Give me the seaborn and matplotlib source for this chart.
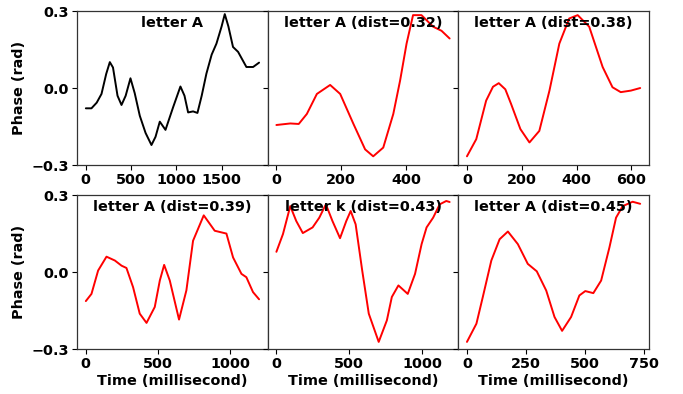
import numpy as np
import pandas as pd
import matplotlib
matplotlib.use("Agg")
import matplotlib.pyplot as plt
import seaborn as sns

# values (time in ms, phase in rad)
ref_t = [0, 62, 120, 173, 225, 265, 300, 350, 394, 440, 493, 540, 596, 660, 725, 770, 817,
         880, 964, 1045, 1090, 1130, 1185, 1233, 1280, 1332, 1390, 1443, 1500, 1535, 1575,
         1626, 1682, 1774, 1848, 1914]
ref_y = [-0.079, -0.079, -0.057, -0.023, 0.055, 0.101, 0.080, -0.030, -0.066, -0.030,
         0.038, -0.020, -0.108, -0.175, -0.222, -0.190, -0.131, -0.163, -0.075, 0.006,
         -0.030, -0.095, -0.091, -0.097, -0.030, 0.056, 0.130, 0.173, 0.240, 0.288, 0.240,
         0.160, 0.141, 0.082, 0.082, 0.099]

m1_t = [0, 43, 69, 94, 125, 166, 197, 238, 274, 299, 330, 361, 382, 402, 422, 448, 484, 510, 535]
m1_y = [-0.144, -0.138, -0.140, -0.101, -0.023, 0.012, -0.023, -0.140, -0.239, -0.266,
        -0.232, -0.101, 0.029, 0.173, 0.284, 0.284, 0.239, 0.223, 0.193]

m2_t = [0, 34, 70, 95, 116, 140, 161, 195, 228, 264, 301, 337, 373, 404, 446, 495, 531,
        561, 598, 632]
m2_y = [-0.266, -0.199, -0.049, 0.005, 0.019, -0.005, -0.062, -0.160, -0.212, -0.167,
        -0.010, 0.173, 0.271, 0.284, 0.239, 0.082, 0.003, -0.016, -0.010, 0.0]

m3_t = [0, 39, 85, 143, 201, 247, 281, 327, 373, 420, 477, 512, 542, 581, 645, 696, 742,
        816, 892, 973, 1019, 1077, 1111, 1157, 1199]
m3_y = [-0.113, -0.085, 0.006, 0.060, 0.045, 0.025, 0.016, -0.059, -0.162, -0.198, -0.136,
        -0.033, 0.028, -0.033, -0.185, -0.071, 0.122, 0.221, 0.161, 0.150, 0.057, -0.007,
        -0.020, -0.078, -0.106]

m4_t = [0, 45, 95, 136, 181, 248, 294, 339, 384, 436, 479, 509, 543, 588, 633, 701, 757,
        791, 836, 900, 950, 995, 1029, 1074, 1119, 1164, 1187]
m4_y = [0.079, 0.148, 0.257, 0.199, 0.152, 0.174, 0.212, 0.264, 0.199, 0.132, 0.199, 0.238,
        0.186, 0.006, -0.162, -0.272, -0.188, -0.097, -0.052, -0.085, -0.007, 0.109, 0.174,
        0.212, 0.264, 0.277, 0.273]

m5_t = [0, 40, 67, 103, 138, 173, 215, 257, 295, 335, 370, 402, 440, 475, 500, 534, 567,
        602, 630, 658, 700, 732]
m5_y = [-0.272, -0.201, -0.097, 0.045, 0.128, 0.158, 0.109, 0.032, 0.003, -0.072, -0.175,
        -0.229, -0.175, -0.091, -0.074, -0.082, -0.033, 0.096, 0.212, 0.257, 0.274, 0.266]

titles = ["letter A", "letter A (dist=0.32)", "letter A (dist=0.38)",
          "letter A (dist=0.39)", "letter k (dist=0.43)", "letter A (dist=0.45)"]
series = [(ref_t, ref_y), (m1_t, m1_y), (m2_t, m2_y),
          (m3_t, m3_y), (m4_t, m4_y), (m5_t, m5_y)]
xticks = [[0, 500, 1000, 1500], [0, 200, 400], [0, 200, 400, 600],
          [0, 500, 1000], [0, 500, 1000], [0, 250, 500, 750]]

sns.set_style("ticks")
plt.rcParams["font.family"] = ["DejaVu Sans"]
plt.rcParams["font.weight"] = "bold"
plt.rcParams["axes.labelweight"] = "bold"
plt.rcParams["font.size"] = 10.4
for key in ["text.color", "axes.labelcolor", "xtick.color", "ytick.color"]:
    plt.rcParams[key] = "black"

fig, axes = plt.subplots(2, 3, figsize=(6.83, 3.94), dpi=100, sharey=True)
fig.subplots_adjust(left=0.113, right=0.950, top=0.972, bottom=0.114, wspace=0, hspace=0.195)

for i, ax in enumerate(axes.flat):
    t, y = series[i]
    df = pd.DataFrame({"t": t, "y": y})
    color = "black" if i == 0 else "red"
    sns.lineplot(data=df, x="t", y="y", ax=ax, color=color, linewidth=1.4, sort=False)
    ax.set_ylim(-0.3, 0.3)
    ax.set_yticks([-0.3, 0.0, 0.3])
    ax.set_xticks(xticks[i])
    ax.text(0.5, 0.965, titles[i], transform=ax.transAxes, ha="center", va="top",
            fontsize=10.4, fontweight="bold")
    ax.set_xlabel("Time (millisecond)" if i >= 3 else "", labelpad=2)
    ax.set_ylabel("Phase (rad)" if i % 3 == 0 else "")
    for s in ax.spines.values():
        s.set_color("#333333")
        s.set_linewidth(0.9)
    ax.tick_params(labelsize=10.4, length=3.5, width=0.8, pad=2.5)

fig.savefig("out.png", dpi=100)
